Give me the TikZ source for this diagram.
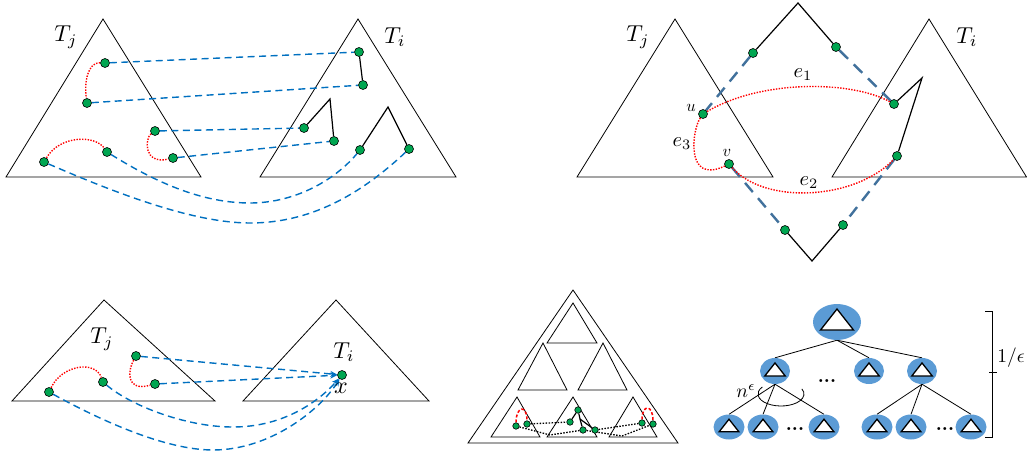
\documentclass[tikz,border=0pt]{standalone}
\usetikzlibrary{shapes.geometric,arrows.meta}
\pgfdeclarelayer{bg}
\pgfsetlayers{bg,main}
\definecolor{ngreen}{RGB}{0,166,81}
\definecolor{lblue}{RGB}{0,112,192}
\definecolor{sblue}{RGB}{65,113,156}
\definecolor{eblue}{RGB}{91,155,213}
\begin{document}
\begin{tikzpicture}[x=1pt,y=-1pt,
 tri/.style={draw=black, line width=0.8pt, line join=miter},
 gdot/.style={circle, draw=black, fill=ngreen, inner sep=0pt, minimum size=9pt, line width=0.6pt},
 sdot/.style={gdot, minimum size=6.5pt},
 bdash/.style={draw=lblue, line width=1.4pt, dash pattern=on 7pt off 4.5pt},
 sdash/.style={draw=sblue, line width=2.4pt, dash pattern=on 12pt off 8pt},
 rdot/.style={draw=red, line width=1.4pt, dash pattern=on 1.4pt off 1.4pt},
 rdash/.style={draw=red, line width=1.5pt, dash pattern=on 3pt off 2pt},
 kdot/.style={draw=black, line width=1.3pt, dash pattern=on 1.5pt off 1.5pt},
 tedge/.style={draw=black, line width=1.2pt},
 arr/.style={-{Stealth[length=7pt,width=6pt]}},
 labT/.style={scale=2.3, inner sep=0pt},
 labX/.style={scale=2.4, inner sep=0pt},
 labE/.style={scale=2.05, inner sep=0pt},
 labS/.style={scale=1.65, inner sep=0pt},
 labM/.style={scale=1.95, inner sep=0pt},
 ell/.style={ellipse, fill=eblue, inner sep=0pt},
 big/.style={ell, minimum width=48pt, minimum height=36pt},
 mid/.style={ell, minimum width=30pt, minimum height=26pt},
 leaf/.style={ell, minimum width=31pt, minimum height=25pt},
 tt/.pic={\draw[fill=white, line width=1.3pt, line join=miter] (0,-13)--(-16.5,8)--(16.5,8)--cycle;},
 dots/.style={font=\bfseries, scale=1.9, inner sep=0pt, anchor=base}
]
\useasboundingbox (0,0) rectangle (1027,457);

% ================= Panel 1 (top left) =================
\node[labT] (p1tj) at (66,37) {$T_j$};
\node[labT] (p1ti) at (395,37) {$T_i$};
\node[gdot] (a1) at (105,63) {};
\node[gdot] (a2) at (87,103) {};
\node[gdot] (a3) at (155,131) {};
\node[gdot] (a4) at (173,158) {};
\node[gdot] (a5) at (44,162) {};
\node[gdot] (a6) at (107,152) {};
\node[gdot] (b1) at (359,52) {};
\node[gdot] (b2) at (363,85) {};
\node[gdot] (b3) at (304,128) {};
\node[gdot] (b4) at (334,141) {};
\node[gdot] (b5) at (360,150) {};
\node[gdot] (b6) at (409,149) {};
\coordinate (bt1) at (330,99);
\coordinate (bt2) at (388,107);

% ================= Panel 2 (top right) =================
\node[labT] (p2tj) at (638,37) {$T_j$};
\node[labT] (p2ti) at (967,37) {$T_i$};
\node[gdot] (c1) at (753,53) {};
\node[gdot] (c2) at (836,47) {};
\node[gdot] (u) at (703,114) {};
\node[gdot] (p) at (894,104) {};
\node[gdot] (v) at (729,164) {};
\node[gdot] (q) at (897,156) {};
\node[gdot] (c3) at (785,230) {};
\node[gdot] (c4) at (843,225) {};
\coordinate (ctop) at (798,3);
\coordinate (cbot) at (812,261);
\coordinate (tiap) at (922,78);
\node[labS] (ul) at (691,108) {$u$};
\node[labS] (vl) at (727,153) {$v$};
\node[labE] (e1) at (803,75) {$e_1$};
\node[labE] (e2) at (809,183) {$e_2$};
\node[labE] (e3) at (682,144) {$e_3$};

% ================= Panel 3 (bottom left) =================
\node[labT] (p3tj) at (102,339) {$T_j$};
\node[labT] (p3ti) at (344,352) {$T_i$};
\node[gdot] (d1) at (136,356) {};
\node[gdot] (d2) at (155,384) {};
\node[gdot] (d3) at (49,392) {};
\node[gdot] (d4) at (103,382) {};
\node[gdot] (x) at (342,375) {};
\node[labX] (xl) at (341,388) {$x$};

% ================= Panel 4 (bottom right) =================
\node[sdot] (f1l) at (516,426) {};
\node[sdot] (f1r) at (527,424) {};
\node[sdot] (m1) at (578,410) {};
\node[sdot] (m2) at (570,422) {};
\node[sdot] (m3) at (583,430) {};
\node[sdot] (m4) at (595,430) {};
\node[sdot] (f2l) at (642,423) {};
\node[sdot] (f2r) at (653,424) {};
\coordinate (mj) at (580,419);
\coordinate (dk1) at (550,435);
\coordinate (dk2) at (622,436);

% tree
\node[big] (r) at (837,322) {};
\node[mid] (l1) at (775,371) {};
\node[mid] (l2) at (869,371) {};
\node[mid] (l3) at (922,371) {};
\node[leaf] (k1) at (729,427) {};
\node[leaf] (k2) at (763,427) {};
\node[leaf] (k3) at (824,427) {};
\node[leaf] (k4) at (877,427) {};
\node[leaf] (k5) at (911,427) {};
\node[leaf] (k6) at (971,427) {};
\pic at (r) {tt};
\foreach \n in {l1,l2,l3} {\pic[scale=0.62] at (\n) {tt};}
\foreach \n in {k1,k2,k3,k4,k5,k6} {\pic[scale=0.6] at (\n) {tt};}
\node[dots] (dd1) at (827,382) {...};
\node[dots] (dd2) at (795,430) {...};
\node[dots] (dd3) at (945,430) {...};
\node[labM] (neps) at (746,391) {$n^{\epsilon}$};
\node[labM] (oneeps) at (1011,358) {$1/\epsilon$};

\begin{pgfonlayer}{bg}
% panel 1
\draw[tri] (103,19) -- (6,177) -- (201,177) -- cycle;
\draw[tri] (358,19) -- (260,177) -- (456,177) -- cycle;
\draw[tedge] (b1) -- (b2);
\draw[tedge] (b3) -- (bt1) -- (b4);
\draw[tedge] (b5) -- (bt2) -- (b6);
\draw[rdot] (a1) .. controls (88,62) and (84,82) .. (a2);
\draw[rdot] (a3) .. controls (145,138) and (143,165) .. (a4);
\draw[rdot] (a5) .. controls (60,135) and (95,135) .. (a6);
\draw[bdash] (a1) -- (b1);
\draw[bdash] (a2) -- (b2);
\draw[bdash] (a3) -- (b3);
\draw[bdash] (a4) -- (b4);
\draw[bdash] (a6) .. controls (160,185) and (205,203) .. (250,203) .. controls (295,203) and (335,180) .. (b5);
\draw[bdash] (a5) .. controls (120,195) and (195,223) .. (250,223) .. controls (310,223) and (360,195) .. (b6);

% panel 2
\draw[tri] (675,19) -- (577,177) -- (773,177) -- cycle;
\draw[tri] (929,19) -- (832,177) -- (1026.5,177) -- cycle;
\draw[tedge] (c1) -- (ctop) -- (c2);
\draw[tedge] (c3) -- (cbot) -- (c4);
\draw[tedge] (p) -- (tiap) -- (q);
\draw[sdash] (c1) -- (u);
\draw[sdash] (c2) -- (p);
\draw[sdash] (v) -- (c3);
\draw[sdash] (q) -- (c4);
\draw[rdot] (u) .. controls (760,80) and (850,80) .. (p);
\draw[rdot] (u) .. controls (692,130) and (685,185) .. (v);
\draw[rdot] (v) .. controls (765,205) and (855,200) .. (q);

% panel 3
\draw[tri] (104,300) -- (12,401) -- (215,401) -- cycle;
\draw[tri] (336,300) -- (243,401) -- (429,401) -- cycle;
\draw[rdot] (d3) .. controls (62,365) and (95,360) .. (d4);
\draw[rdot] (d1) .. controls (128,370) and (125,392) .. (d2);
\draw[bdash, arr] (d1) -- (x);
\draw[bdash, arr] (d2) -- (x);
\draw[bdash, arr] (d4) .. controls (130,405) and (185,427) .. (233,427) .. controls (285,427) and (320,400) .. (x);
\draw[bdash, arr] (d3) .. controls (100,420) and (165,450) .. (213,450) .. controls (270,450) and (320,410) .. (x);

% panel 4 triangles
\draw[tri] (573,290) -- (468,443) -- (678,443) -- cycle;
\draw[tri] (573,303) -- (547,343) -- (597,343) -- cycle;
\draw[tri] (543,343) -- (518,390) -- (567,390) -- cycle;
\draw[tri] (603,343) -- (578,390) -- (627,390) -- cycle;
\draw[tri] (517,397) -- (491,437) -- (540,437) -- cycle;
\draw[tri] (573,397) -- (547,437) -- (597,437) -- cycle;
\draw[tri] (633,397) -- (609,437) -- (657,437) -- cycle;
\draw[rdash] (f1l) .. controls (516,406) and (527,404) .. (f1r);
\draw[rdash] (f2l) .. controls (642,404) and (653,404) .. (f2r);
\draw[tedge] (m1) -- (m2);
\draw[tedge] (m1) -- (mj) -- (m3);
\draw[tedge] (mj) -- (m4);
\draw[kdot] (f1r) -- (m2);
\draw[kdot] (f1l) -- (dk1) -- (m3);
\draw[kdot] (m4) -- (f2l);
\draw[kdot] (m3) -- (dk2) -- (f2r);

% tree edges
\draw[line width=0.8pt] (r.south) -- (l1.north);
\draw[line width=0.8pt] (r.south) -- (l2.north);
\draw[line width=0.8pt] (r.south) -- (l3.north);
\foreach \k in {k1,k2,k3} {\draw[line width=0.8pt] (l1.south) -- (\k.north);}
\foreach \k in {k4,k5,k6} {\draw[line width=0.8pt] (l3.south) -- (\k.north);}
\end{pgfonlayer}

% n^eps arc
\draw[line width=0.8pt] (781,394) ++(216:23 and 12) arc[start angle=216, end angle=-25, x radius=23, y radius=12];
% bracket
\draw[line width=0.9pt] (985,311) -- (992,311) -- (992,437) -- (985,437);
\draw[line width=0.9pt] (989,372) -- (997,372);
\end{tikzpicture}
\end{document}
